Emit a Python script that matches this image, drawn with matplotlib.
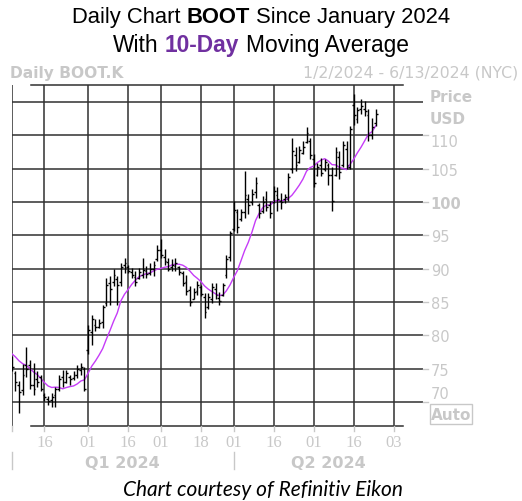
import matplotlib
matplotlib.use("Agg")
import matplotlib.pyplot as plt
from matplotlib.patches import Rectangle
import numpy as np
import pandas as pd

W, H = 522, 502

# Dec 2023 closes, only used to warm up the 10 day average
dec_closes = [77.8, 77.5, 78.3, 77.6, 77.0, 77.4, 76.8, 77.9, 77.0]

opens = [76.5, 74.4, 72.5, 71.8, 75.5, 75.5, 72.5, 73.5, 73.8, 71.0,
         70.5, 70.3, 71.0, 72.0, 73.8, 73.0, 73.8, 73.6, 74.0, 74.8,
         75.0, 77.8, 80.5, 81.5, 81.3, 82.0, 84.8, 87.8, 88.0, 88.5,
         88.0, 90.5, 90.3, 89.5, 88.8, 88.6, 89.0, 89.6, 89.4, 90.0,
         91.5, 92.8, 91.8, 91.0, 90.2, 90.4, 90.2, 89.4, 88.0, 86.8,
         85.5, 86.6, 87.2, 85.8, 84.2, 85.5, 87.0, 85.6, 86.0, 89.0,
         91.8, 96.0, 98.5, 97.5, 98.5, 100.5, 100.0, 101.5, 99.5, 98.6,
         100.5, 99.6, 100.0, 101.0, 100.2, 100.4, 100.5, 105.0, 107.0, 106.0,
         107.4, 109.0, 109.2, 106.5, 104.0, 105.5, 105.0, 105.5, 104.0, 104.0,
         106.8, 105.5, 108.0, 105.2, 114.5, 112.5, 114.0, 114.0, 113.0, 110.0,
         111.8]
highs = [76.9, 74.6, 73.1, 75.7, 78.2, 76.3, 75.8, 74.6, 74.1, 71.4,
         70.9, 71.3, 72.3, 74.1, 74.8, 74.8, 74.1, 74.6, 75.6, 75.8,
         75.3, 81.5, 83.0, 82.4, 82.4, 84.6, 88.6, 88.9, 89.9, 88.9,
         90.9, 91.6, 90.6, 90.1, 89.6, 90.1, 91.6, 90.4, 90.9, 91.1,
         93.6, 94.4, 92.9, 91.6, 91.4, 91.6, 90.4, 89.6, 89.1, 87.4,
         87.1, 88.1, 87.6, 86.4, 86.4, 87.9, 87.9, 86.5, 87.9, 92.1,
         95.6, 100.2, 98.9, 98.9, 104.6, 101.2, 101.9, 103.7, 99.9, 100.9,
         101.6, 100.2, 102.4, 102.2, 101.4, 101.2, 104.4, 109.6, 108.2, 108.4,
         109.2, 111.2, 109.6, 107.2, 105.9, 106.6, 106.4, 105.9, 105.2, 108.2,
         107.6, 109.2, 109.2, 111.4, 116.2, 114.2, 115.4, 115.2, 113.9, 112.6,
         113.9]
lows = [74.6, 71.6, 68.4, 71.1, 73.7, 72.0, 71.1, 72.3, 71.6, 70.1,
        69.6, 69.3, 69.3, 71.6, 72.3, 72.8, 72.6, 73.3, 73.6, 74.1,
        71.6, 77.2, 78.5, 80.6, 81.1, 81.1, 84.4, 84.6, 87.4, 84.6,
        87.4, 89.4, 89.4, 88.6, 87.4, 88.4, 88.6, 88.6, 89.1, 88.9,
        91.1, 91.6, 90.6, 89.6, 89.6, 89.6, 89.1, 87.4, 86.1, 84.4,
        85.4, 86.1, 85.9, 82.6, 83.9, 84.9, 85.4, 84.5, 85.9, 88.6,
        91.2, 95.6, 95.4, 97.2, 97.6, 98.2, 99.6, 100.6, 97.6, 98.4,
        98.6, 97.6, 99.9, 98.6, 98.9, 99.9, 100.2, 104.4, 104.6, 105.9,
        107.2, 108.9, 106.4, 102.2, 103.9, 103.9, 104.6, 102.6, 98.6, 103.9,
        103.4, 105.2, 104.9, 104.9, 111.6, 111.9, 113.2, 112.9, 109.2, 109.4,
        111.4]
closes = [75.3, 73.0, 71.5, 74.0, 75.0, 72.5, 72.0, 73.0, 72.0, 70.8,
          70.2, 70.8, 72.0, 73.5, 73.0, 74.4, 73.4, 74.0, 75.0, 75.2,
          72.0, 80.8, 82.5, 81.2, 81.8, 84.2, 87.5, 87.0, 89.0, 87.5,
          90.2, 90.8, 89.6, 89.0, 88.0, 89.5, 89.8, 89.2, 90.0, 90.6,
          92.8, 92.0, 91.2, 90.0, 90.5, 90.8, 89.5, 87.8, 86.6, 85.0,
          86.5, 87.6, 86.2, 83.5, 85.8, 87.2, 86.0, 85.2, 87.5, 91.5,
          95.3, 98.8, 96.2, 98.5, 101.0, 99.5, 101.2, 102.8, 98.4, 100.0,
          99.2, 98.4, 101.6, 100.4, 100.0, 100.8, 103.8, 107.6, 105.6, 107.8,
          108.2, 110.4, 107.0, 102.8, 105.2, 104.4, 106.0, 104.0, 100.2, 107.5,
          104.5, 108.5, 105.5, 111.0, 113.0, 113.8, 114.4, 113.6, 110.0, 111.2,
          113.2]

# trading-day index of each date label
tick_pos = [9, 21, 32, 41, 52, 61, 72, 83, 94, 105]
tick_labels = ["16", "01", "16", "01", "18", "01", "16", "01", "16", "03"]
price_ticks = [70, 75, 80, 85, 90, 95, 100, 105, 110, 115]
price_labels = ["70", "75", "80", "85", "90", "95", "100", "105", "110", ""]
quarters = ["Q1 2024", "Q2 2024"]
quarter_bounds = [0, 61, 113]

GRAY = "#c8c8c8"
GRID = "#303030"
MA_COLOR = "#c63cf8"

fig = plt.figure(figsize=(W / 100, H / 100), dpi=100)

def px(x, y):
    return x / W, 1 - y / H

# plot box in pixels: left 11.7, right 423, top 86, bottom 427
ax = fig.add_axes([11.7 / W, 1 - 427 / H, (423 - 11.7) / W, (427 - 86) / H])
ax.set_xlim(0, 113)
ax.set_ylim(66.4, 117.55)
ax.axis("off")

# grid
for p in price_ticks:
    ax.axhline(p, color=GRID, lw=1.1, zorder=1)
for t in [0] + tick_pos:
    ax.axvline(t, color=GRID, lw=1.1, zorder=1)
ax.plot([5.3, 107.5], [117.55, 117.55], color=GRID, lw=1.1, clip_on=False)
ax.plot([5.3, 107.5], [66.4, 66.4], color=GRID, lw=1.1, clip_on=False)

# OHLC bars
idx = np.arange(len(closes))
ax.vlines(idx, lows, highs, color="black", lw=1.0, zorder=3)
ax.hlines(opens, idx - 0.5, idx, color="black", lw=1.0, zorder=3)
ax.hlines(closes, idx, idx + 0.5, color="black", lw=1.0, zorder=3)

# 10 day moving average
ma = pd.Series(dec_closes + closes).rolling(10).mean().iloc[len(dec_closes):].to_numpy()
ax.plot(idx, ma, color=MA_COLOR, lw=1.0, zorder=2)

# right price scale
ytrans = ax.get_yaxis_transform()
label_shift = {110: -10.4, 70: 3.9}
for p, lab in zip(price_ticks, price_labels):
    if not lab:
        continue
    ax.plot([1.0, 1.012], [p, p], color=GRAY, lw=1.0, transform=ytrans, clip_on=False)
    dy = label_shift.get(p, -6.0)
    ax.annotate(lab, xy=(1.0, p), xycoords=ytrans, xytext=(7.7 * 0.72, dy * 0.72),
                textcoords="offset points", ha="left", va="baseline",
                fontsize=10.5, color=GRAY, family="DejaVu Sans",
                fontweight="bold" if p == 100 else "normal")

fig.text(*px(430, 101.7), "Price", fontsize=11, fontweight="bold", color=GRAY,
         family="DejaVu Sans", va="baseline")
fig.text(*px(430, 124.3), "USD", fontsize=11, fontweight="bold", color=GRAY,
         family="DejaVu Sans", va="baseline")
fig.patches.append(Rectangle(px(430, 425), 42 / W, 20 / H, transform=fig.transFigure,
                             fill=False, edgecolor=GRAY, lw=1.0))
fig.text(*px(451, 415), "Auto", fontsize=11, fontweight="bold", color=GRAY,
         family="DejaVu Sans", ha="center", va="center")

# date scale
xtrans = ax.get_xaxis_transform()
for t, lab in zip([0] + tick_pos, [""] + tick_labels):
    ax.plot([t, t], [0, -4.5 / 341], color=GRAY, lw=1.0, transform=xtrans, clip_on=False)
    if lab:
        ax.annotate(lab, xy=(t, 0), xycoords=xtrans, xytext=(0, -19.7 * 0.72),
                    textcoords="offset points", ha="center", va="baseline",
                    fontsize=12, color=GRAY, family="Liberation Serif")
for q, a, b in zip(quarters, quarter_bounds[:-1], quarter_bounds[1:]):
    ax.plot([a, a], [-26 / 341, -43 / 341], color=GRAY, lw=1.0, transform=xtrans, clip_on=False)
    ax.annotate(q, xy=((a + b) / 2, 0), xycoords=xtrans, xytext=(0, -40.7 * 0.72),
                textcoords="offset points", ha="center", va="baseline",
                fontsize=11.5, fontweight="bold", color=GRAY, family="DejaVu Sans")

# header texts
fig.text(*px(10, 77.7), "Daily BOOT.K", fontsize=11.2, fontweight="bold", color=GRAY,
         family="DejaVu Sans", va="baseline")
fig.text(*px(518, 77.7), "1/2/2024 - 6/13/2024 (NYC)", fontsize=11.3, color=GRAY,
         family="DejaVu Sans", ha="right", va="baseline")


def rich_line(y, parts, size, family):
    # lay the parts side by side and center the whole line
    r = fig.canvas.get_renderer()
    probe1 = fig.text(0, 0, "x x", fontsize=size, family=family)
    probe2 = fig.text(0, 0, "xx", fontsize=size, family=family)
    space = probe1.get_window_extent(r).width - probe2.get_window_extent(r).width
    probe1.remove()
    probe2.remove()
    objs = []
    for s, w, c in parts:
        objs.append(fig.text(0, 1 - y / H, s, fontsize=size, fontweight=w, color=c,
                             family=family, va="baseline", ha="left"))
    widths = [o.get_window_extent(r).width for o in objs]
    total = sum(widths) + space * (len(objs) - 1)
    x = (W - total) / 2
    for o, w in zip(objs, widths):
        o.set_x(x / W)
        x += w + space


rich_line(23.3, [("Daily Chart", "normal", "black"), ("BOOT", "bold", "black"),
                 ("Since January 2024", "normal", "black")], 15.8, "Liberation Sans")
rich_line(51.7, [("With", "normal", "black"), ("10-Day", "bold", "#7030a0"),
                 ("Moving Average", "normal", "black")], 16.4, "Liberation Sans")

fig.text(*px(263, 495.7), "Chart courtesy of Refinitiv Eikon", fontsize=15, style="italic",
         color="black", family="Lato", ha="center", va="baseline")

fig.savefig("out.png", dpi=100)
